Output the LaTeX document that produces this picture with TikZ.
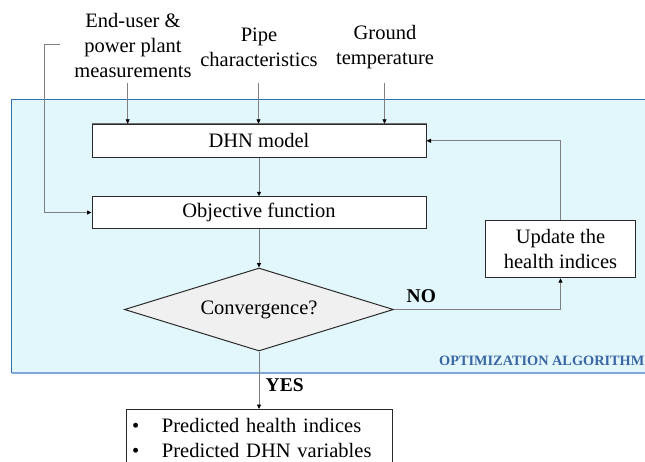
\documentclass[tikz,border=0pt]{standalone}
\usepackage{fontspec}
\setmainfont{Liberation Serif}
\usetikzlibrary{shapes.geometric,arrows.meta}
\definecolor{bgfill}{HTML}{E2F7FB}
\definecolor{bgline}{HTML}{2F6FAE}
\definecolor{bgbot}{HTML}{7FA8D8}
\definecolor{boxline}{HTML}{2A2A2A}
\definecolor{shadowc}{HTML}{707070}
\definecolor{conn}{HTML}{808080}
\definecolor{optblue}{HTML}{3A66A6}
\definecolor{diafill}{HTML}{F0F0F0}
\tikzset{
  mainfont/.style={font=\fontsize{20.5}{25}\selectfont},
  procbox/.style={draw=boxline, line width=1pt, fill=white, inner sep=0pt, mainfont, align=center},
  lbl/.style={inner sep=0pt, mainfont, align=center},
  conna/.style={draw=conn, line width=0.8pt, -{Triangle[length=4.5pt,width=4pt,color=black]}},
  decision/.style={diamond, draw=boxline, line width=1pt, fill=diafill, inner sep=0pt, shape aspect=3.2, mainfont},
}
\begin{document}
\begin{tikzpicture}[x=1pt,y=-1pt]
\path[use as bounding box, clip] (0,0) rectangle (645,461);
\fill[white] (0,0) rectangle (645,461);
% background region
\fill[bgfill] (11.5,99) rectangle (660,373);
\draw[bgline, line width=1pt] (11.5,373) -- (11.5,99) -- (660,99);
\draw[bgbot, line width=1.6pt] (11.5,373) -- (660,373);
\node[anchor=base west, inner sep=0pt, text=optblue, font=\fontsize{14.3}{16}\selectfont\bfseries] (opt) at (439,365) {OPTIMIZATION ALGORITHM};

% inputs
\node[lbl] (meas) at (133,45.5) {End-user \&\\power plant\\measurements};
\node[lbl] (pipe) at (259,47.5) {Pipe\\characteristics};
\node[lbl] (grnd) at (385,47.5) {Ground\\temperature};

% process
\draw[shadowc, line width=1.4pt] (91.5,123.8) -- (426.5,123.8) -- (426.5,157.5);
\node[procbox, minimum width=334, minimum height=33] (dhn) at (259,140.8) {DHN model};
\node[procbox, minimum width=334, minimum height=31.5] (obj) at (259,212.5) {Objective function};
\node[decision, minimum width=269, minimum height=83] (conv) at (259,309.5) {Convergence?};
\node[procbox, minimum width=150.5, minimum height=57] (upd) at (560.5,249.2) {Update the\\health indices};
\node[procbox, anchor=north, minimum width=266, minimum height=56, align=left, text width=266] (out) at (259,409)
  {\hspace*{6pt}\makebox[30pt][l]{\textbullet}Predicted health indices\\
   \hspace*{6pt}\makebox[30pt][l]{\textbullet}Predicted DHN variables};

% connectors
\coordinate (m0) at (127.7,83);
\coordinate (p0) at (258.5,83);
\coordinate (g0) at (384.5,83);
\draw[conna] (m0) -- (m0 |- dhn.north);
\draw[conna] (p0) -- (p0 |- dhn.north);
\draw[conna] (g0) -- (g0 |- dhn.north);
\coordinate (b0) at (59.5,44);
\draw[conna] (b0) -- (44,44) -- (44,212.5) -- (obj.west);
\draw[conna] (dhn.south) -- (obj.north);
\draw[conna] (obj.south) -- (conv.north);
\draw[conna] (conv.east) -| (upd.south);
\draw[conna] (upd.north) |- (dhn.east);
\draw[conna] (conv.south) -- (out.north);

\node[anchor=base west, inner sep=0pt, font=\fontsize{19.5}{22}\selectfont\bfseries] (no) at (406.5,302) {NO};
\node[anchor=base west, inner sep=0pt, font=\fontsize{19.5}{22}\selectfont\bfseries] (yes) at (265.5,391.5) {YES};
\end{tikzpicture}
\end{document}
